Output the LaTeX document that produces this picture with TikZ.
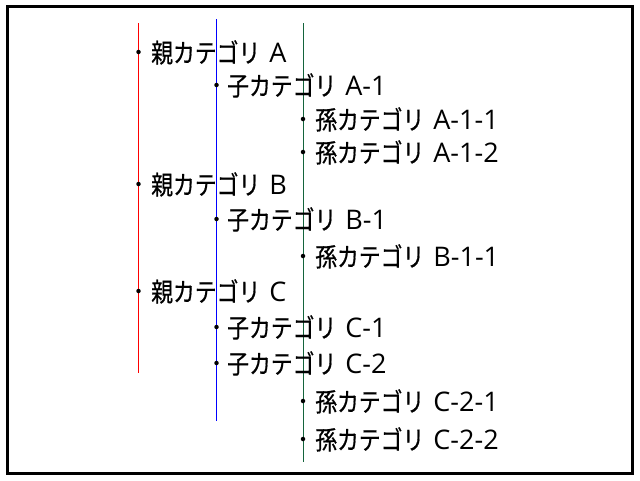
\documentclass[tikz,border=0pt]{standalone}
\usepackage{fontspec}
\newfontfamily\cjk[FakeStretch=0.84,FakeBold=0.6]{Noto Sans CJK JP}
\newfontfamily\latinfont{Open Sans}
\usepackage{tikz}
\definecolor{grandgreen}{RGB}{20,100,60}
\newcommand{\catlabel}[2]{{\cjk\fontsize{26}{30}\selectfont #1}\hspace{9pt}{\latinfont\fontsize{27}{30}\selectfont #2}}

\begin{document}
\begin{tikzpicture}[x=1pt,y=-1pt,
    dot/.style={circle,fill=black,inner sep=0pt,minimum size=4.5pt},
    item/.style={anchor=base west,inner sep=0pt}]
          \useasboundingbox (0,0) rectangle (640,480);
          \draw[line width=3pt] (7.5,6.5) rectangle (632.5,473.5);
          % tree lines
          \coordinate (parenttop) at (138,23);
          \coordinate (parentbot) at (138,373);
          \coordinate (childtop) at (216.5,19);
          \coordinate (childbot) at (216.5,421);
          \coordinate (grandtop) at (303,23);
          \coordinate (grandbot) at (303,462);
          \draw[red,line width=1pt] (parenttop)--(parentbot);
          \draw[blue,line width=1pt] (childtop)--(childbot);
          \draw[grandgreen,line width=1pt] (grandtop)--(grandbot);
          % dots
          \node[dot] (dA) at (138.5,52) {};
          \node[dot] (dA1) at (216.5,85) {};
          \node[dot] (dA11) at (303,119) {};
          \node[dot] (dA12) at (303,152) {};
          \node[dot] (dB) at (138.5,184) {};
          \node[dot] (dB1) at (216.5,219) {};
          \node[dot] (dB11) at (303,256) {};
          \node[dot] (dC) at (138.5,291) {};
          \node[dot] (dC1) at (216.5,327) {};
          \node[dot] (dC2) at (216.5,363) {};
          \node[dot] (dC21) at (303,401) {};
          \node[dot] (dC22) at (303,439) {};
          % labels
          \node[item] (A) at (151,62.5) {\catlabel{親カテゴリ}{A}};
          \node[item] (A1) at (227,95.5) {\catlabel{子カテゴリ}{A-1}};
          \node[item] (A11) at (315,129.5) {\catlabel{孫カテゴリ}{A-1-1}};
          \node[item] (A12) at (315,162.5) {\catlabel{孫カテゴリ}{A-1-2}};
          \node[item] (B) at (151,194.5) {\catlabel{親カテゴリ}{B}};
          \node[item] (B1) at (227,229.5) {\catlabel{子カテゴリ}{B-1}};
          \node[item] (B11) at (315,266.5) {\catlabel{孫カテゴリ}{B-1-1}};
          \node[item] (C) at (151,301.5) {\catlabel{親カテゴリ}{C}};
          \node[item] (C1) at (227,337.5) {\catlabel{子カテゴリ}{C-1}};
          \node[item] (C2) at (227,373.5) {\catlabel{子カテゴリ}{C-2}};
          \node[item] (C21) at (315,411.5) {\catlabel{孫カテゴリ}{C-2-1}};
          \node[item] (C22) at (315,449.5) {\catlabel{孫カテゴリ}{C-2-2}};
        \end{tikzpicture}
\end{document}
